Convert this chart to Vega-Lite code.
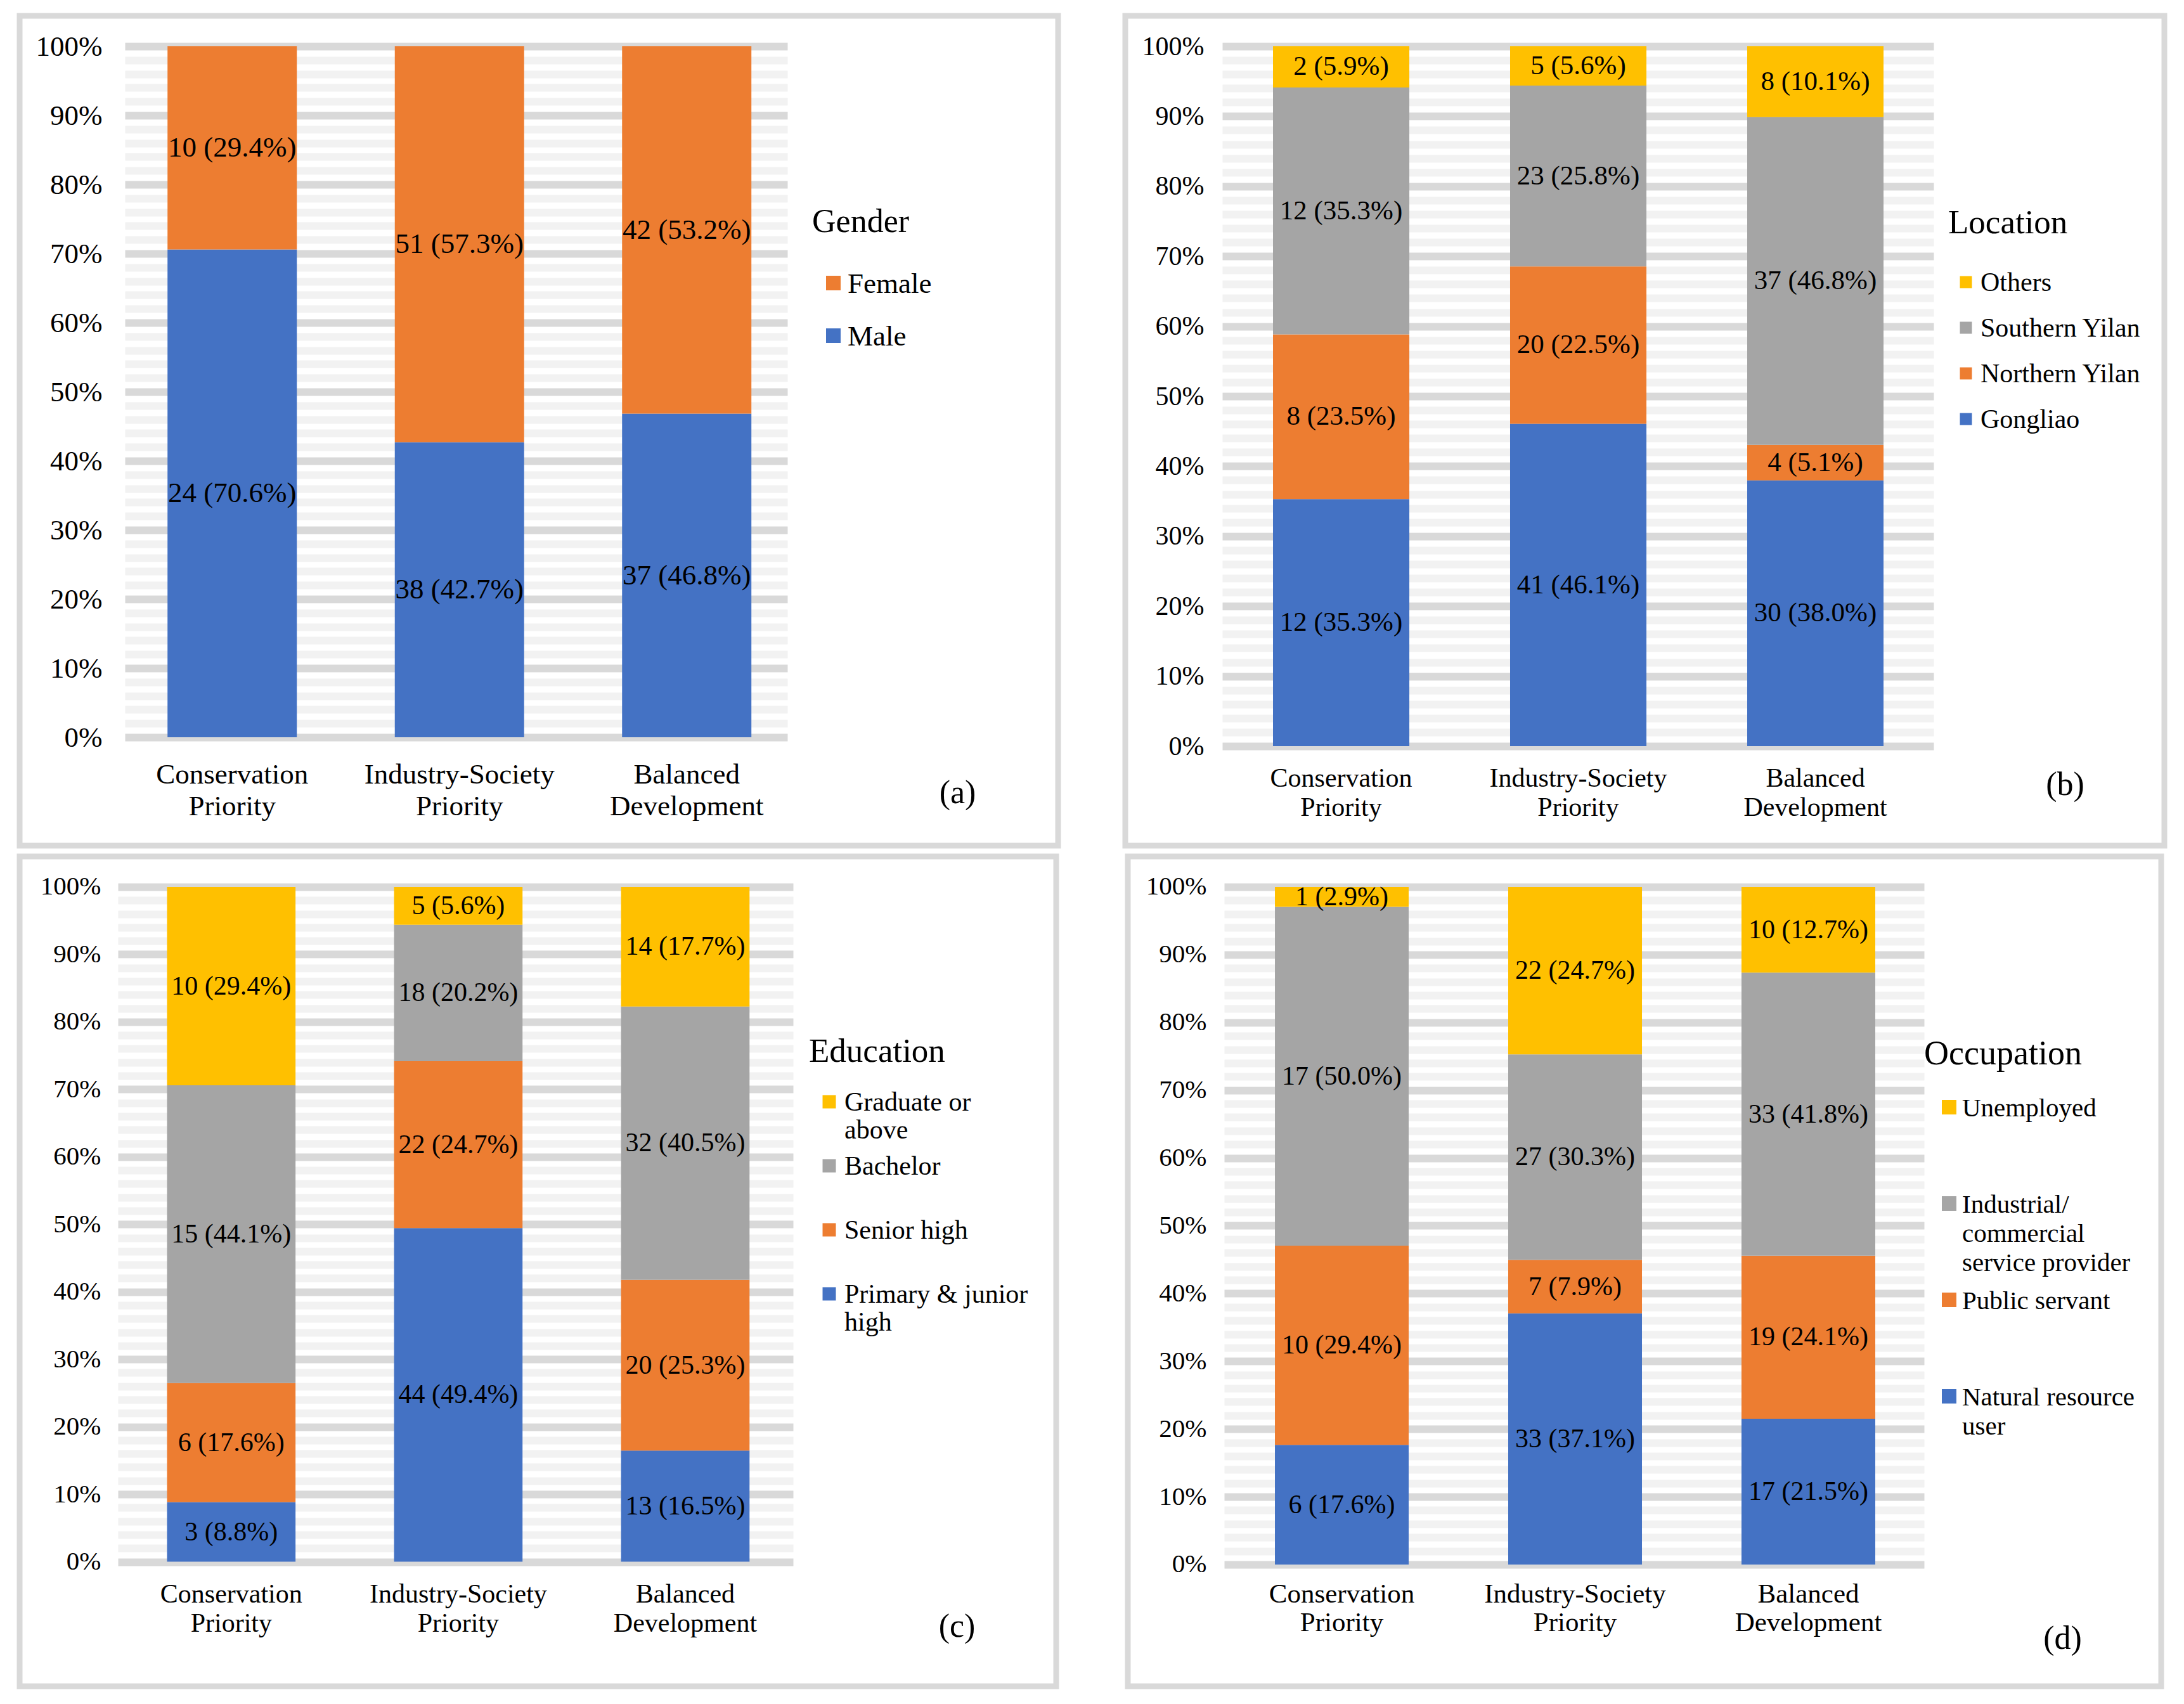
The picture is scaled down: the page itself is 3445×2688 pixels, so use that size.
{
  "$schema": "https://vega.github.io/schema/vega-lite/v6.json",
  "background": "white",
  "padding": {"left": 26, "top": 20, "right": 5, "bottom": 5},
  "spacing": 7,
  "resolve": {"scale": {"x": "independent", "y": "independent", "color": "independent"}, "legend": {"color": "independent"}},
  "datasets": {
    "gender": [
      {"grp": "Conservation Priority", "cat": "Male", "n": 24, "pct": 70.6},
      {"grp": "Conservation Priority", "cat": "Female", "n": 10, "pct": 29.4},
      {"grp": "Industry-Society Priority", "cat": "Male", "n": 38, "pct": 42.7},
      {"grp": "Industry-Society Priority", "cat": "Female", "n": 51, "pct": 57.3},
      {"grp": "Balanced Development", "cat": "Male", "n": 37, "pct": 46.8},
      {"grp": "Balanced Development", "cat": "Female", "n": 42, "pct": 53.2}
    ],
    "location": [
      {"grp": "Conservation Priority", "cat": "Gongliao", "n": 12, "pct": 35.3},
      {"grp": "Conservation Priority", "cat": "Northern Yilan", "n": 8, "pct": 23.5},
      {"grp": "Conservation Priority", "cat": "Southern Yilan", "n": 12, "pct": 35.3},
      {"grp": "Conservation Priority", "cat": "Others", "n": 2, "pct": 5.9},
      {"grp": "Industry-Society Priority", "cat": "Gongliao", "n": 41, "pct": 46.1},
      {"grp": "Industry-Society Priority", "cat": "Northern Yilan", "n": 20, "pct": 22.5},
      {"grp": "Industry-Society Priority", "cat": "Southern Yilan", "n": 23, "pct": 25.8},
      {"grp": "Industry-Society Priority", "cat": "Others", "n": 5, "pct": 5.6},
      {"grp": "Balanced Development", "cat": "Gongliao", "n": 30, "pct": 38.0},
      {"grp": "Balanced Development", "cat": "Northern Yilan", "n": 4, "pct": 5.1},
      {"grp": "Balanced Development", "cat": "Southern Yilan", "n": 37, "pct": 46.8},
      {"grp": "Balanced Development", "cat": "Others", "n": 8, "pct": 10.1}
    ],
    "education": [
      {"grp": "Conservation Priority", "cat": "Primary & junior high", "n": 3, "pct": 8.8},
      {"grp": "Conservation Priority", "cat": "Senior high", "n": 6, "pct": 17.6},
      {"grp": "Conservation Priority", "cat": "Bachelor", "n": 15, "pct": 44.1},
      {"grp": "Conservation Priority", "cat": "Graduate or above", "n": 10, "pct": 29.4},
      {"grp": "Industry-Society Priority", "cat": "Primary & junior high", "n": 44, "pct": 49.4},
      {"grp": "Industry-Society Priority", "cat": "Senior high", "n": 22, "pct": 24.7},
      {"grp": "Industry-Society Priority", "cat": "Bachelor", "n": 18, "pct": 20.2},
      {"grp": "Industry-Society Priority", "cat": "Graduate or above", "n": 5, "pct": 5.6},
      {"grp": "Balanced Development", "cat": "Primary & junior high", "n": 13, "pct": 16.5},
      {"grp": "Balanced Development", "cat": "Senior high", "n": 20, "pct": 25.3},
      {"grp": "Balanced Development", "cat": "Bachelor", "n": 32, "pct": 40.5},
      {"grp": "Balanced Development", "cat": "Graduate or above", "n": 14, "pct": 17.7}
    ],
    "occupation": [
      {"grp": "Conservation Priority", "cat": "Natural resource user", "n": 6, "pct": 17.6},
      {"grp": "Conservation Priority", "cat": "Public servant", "n": 10, "pct": 29.4},
      {"grp": "Conservation Priority", "cat": "Industrial/commercial service provider", "n": 17, "pct": 50.0},
      {"grp": "Conservation Priority", "cat": "Unemployed", "n": 1, "pct": 2.9},
      {"grp": "Industry-Society Priority", "cat": "Natural resource user", "n": 33, "pct": 37.1},
      {"grp": "Industry-Society Priority", "cat": "Public servant", "n": 7, "pct": 7.9},
      {"grp": "Industry-Society Priority", "cat": "Industrial/commercial service provider", "n": 27, "pct": 30.3},
      {"grp": "Industry-Society Priority", "cat": "Unemployed", "n": 22, "pct": 24.7},
      {"grp": "Balanced Development", "cat": "Natural resource user", "n": 17, "pct": 21.5},
      {"grp": "Balanced Development", "cat": "Public servant", "n": 19, "pct": 24.1},
      {"grp": "Balanced Development", "cat": "Industrial/commercial service provider", "n": 33, "pct": 41.8},
      {"grp": "Balanced Development", "cat": "Unemployed", "n": 10, "pct": 12.7}
    ]
  },
  "vconcat": [
    {
      "spacing": 96,
      "resolve": {"scale": {"x": "independent", "y": "independent", "color": "independent"}, "legend": {"color": "independent"}},
      "hconcat": [
        {
          "width": 1638, "height": 1309,
          "data": {"name": "gender"},
          "transform": [
            {"calculate": "indexof(['Male','Female'], datum.cat)", "as": "o"},
            {"stack": "n", "groupby": ["grp"], "sort": [{"field": "o", "order": "ascending"}], "offset": "normalize", "as": ["y0", "y1"]},
            {"calculate": "(datum.y0 + datum.y1) / 2", "as": "mid"},
            {"calculate": "datum.n + ' (' + format(datum.pct, '.1f') + '%)'", "as": "lbl"}
          ],
          "resolve": {"axis": {"x": "independent", "y": "independent"}},
          "layer": [
            {
              "mark": {"type": "bar"},
              "encoding": {
                "x": {"field": "grp", "type": "nominal", "sort": ["Conservation Priority", "Industry-Society Priority", "Balanced Development"],
                  "scale": {"paddingInner": 0.431, "paddingOuter": 1.069, "align": 0.3253},
                  "axis": {"orient": "bottom", "offset": -171, "domain": false, "ticks": false, "grid": false, "labelPadding": 36, "labelFontSize": 45, "labelLineHeight": 50, "labelBaseline": "top", "labelAngle": 0, "labelLimit": 1000, "labelExpr": "split(datum.label, ' ')",
                    "title": "(a)", "titleX": 1479, "titleY": 87, "titleFontSize": 52, "titleAlign": "center", "titleBaseline": "middle"}},
                "y": {"field": "y0", "type": "quantitative",
                  "scale": {"domain": [-0.15688, 1.04404], "nice": false, "zero": false},
                  "axis": {"orient": "left", "offset": -1211, "domain": false, "grid": false, "ticks": true, "tickSize": 1045, "tickWidth": 12,
                    "tickColor": {"condition": {"test": "round(datum.value*50) % 5 == 0", "value": "#d9d9d9"}, "value": "#f2f2f2"},
                    "values": [0,0.02,0.04,0.06,0.08,0.1,0.12,0.14,0.16,0.18,0.2,0.22,0.24,0.26,0.28,0.3,0.32,0.34,0.36,0.38,0.4,0.42,0.44,0.46,0.48,0.5,0.52,0.54,0.56,0.58,0.6,0.62,0.64,0.66,0.68,0.7,0.72,0.74,0.76,0.78,0.8,0.82,0.84,0.86,0.88,0.9,0.92,0.94,0.96,0.98,1],
                    "labelExpr": "round(datum.value*50) % 5 == 0 ? format(datum.value, '.0%') : ''",
                    "labelPadding": 36, "labelFontSize": 45, "labelOverlap": false, "labelFlush": false, "title": null}},
                "y2": {"field": "y1"},
                "color": {"field": "cat", "type": "nominal",
                  "scale": {"domain": ["Female", "Male"], "range": ["#ed7d31", "#4472c4"]},
                  "legend": {"orient": "none", "legendX": 1250, "legendY": 300, "direction": "vertical", "title": "Gender", "titleFontSize": 52, "titlePadding": 47,
                    "labelFontSize": 45, "labelBaseline": "alphabetic", "labelOffset": 0, "symbolSize": 529, "symbolOffset": 11, "rowPadding": 36,
                    "encoding": {"labels": {"dy": {"value": 15}}}}}
              }
            },
            {
              "mark": {"type": "text", "fontSize": 45, "align": "center", "baseline": "middle", "color": "#000000"},
              "encoding": {
                "x": {"field": "grp", "type": "nominal", "sort": ["Conservation Priority", "Industry-Society Priority", "Balanced Development"],
                  "scale": {"paddingInner": 0.431, "paddingOuter": 1.069, "align": 0.3253}, "axis": null},
                "y": {"field": "mid", "type": "quantitative", "scale": {"domain": [-0.15688, 1.04404], "nice": false, "zero": false}, "axis": null},
                "text": {"field": "lbl"}
              }
            }
          ]
        },
        {
          "width": 1639, "height": 1309,
          "data": {"name": "location"},
          "transform": [
            {"calculate": "indexof(['Gongliao','Northern Yilan','Southern Yilan','Others'], datum.cat)", "as": "o"},
            {"stack": "n", "groupby": ["grp"], "sort": [{"field": "o", "order": "ascending"}], "offset": "normalize", "as": ["y0", "y1"]},
            {"calculate": "(datum.y0 + datum.y1) / 2", "as": "mid"},
            {"calculate": "datum.n + ' (' + format(datum.pct, '.1f') + '%)'", "as": "lbl"}
          ],
          "resolve": {"axis": {"x": "independent", "y": "independent"}},
          "layer": [
            {
              "mark": {"type": "bar"},
              "encoding": {
                "x": {"field": "grp", "type": "nominal", "sort": ["Conservation Priority", "Industry-Society Priority", "Balanced Development"],
                  "scale": {"paddingInner": 0.425, "paddingOuter": 0.9037, "align": 0.3447},
                  "axis": {"orient": "bottom", "offset": -157, "domain": false, "ticks": false, "grid": false, "labelPadding": 30, "labelFontSize": 42, "labelLineHeight": 46, "labelBaseline": "top", "labelAngle": 0, "labelLimit": 1000, "labelExpr": "split(datum.label, ' ')",
                    "title": "(b)", "titleX": 1482, "titleY": 60, "titleFontSize": 52, "titleAlign": "center", "titleBaseline": "middle"}},
                "y": {"field": "y0", "type": "quantitative",
                  "scale": {"domain": [-0.14221, 1.04348], "nice": false, "zero": false},
                  "axis": {"orient": "left", "offset": -1275, "domain": false, "grid": false, "ticks": true, "tickSize": 1122, "tickWidth": 12,
                    "tickColor": {"condition": {"test": "round(datum.value*50) % 5 == 0", "value": "#d9d9d9"}, "value": "#f2f2f2"},
                    "values": [0,0.02,0.04,0.06,0.08,0.1,0.12,0.14,0.16,0.18,0.2,0.22,0.24,0.26,0.28,0.3,0.32,0.34,0.36,0.38,0.4,0.42,0.44,0.46,0.48,0.5,0.52,0.54,0.56,0.58,0.6,0.62,0.64,0.66,0.68,0.7,0.72,0.74,0.76,0.78,0.8,0.82,0.84,0.86,0.88,0.9,0.92,0.94,0.96,0.98,1],
                    "labelExpr": "round(datum.value*50) % 5 == 0 ? format(datum.value, '.0%') : ''",
                    "labelPadding": 29, "labelFontSize": 42, "labelOverlap": false, "labelFlush": false, "title": null}},
                "y2": {"field": "y1"},
                "color": {"field": "cat", "type": "nominal",
                  "scale": {"domain": ["Others", "Southern Yilan", "Northern Yilan", "Gongliao"], "range": ["#ffc000", "#a5a5a5", "#ed7d31", "#4472c4"]},
                  "legend": {"orient": "none", "legendX": 1298, "legendY": 301, "direction": "vertical", "title": "Location", "titleFontSize": 53, "titlePadding": 45,
                    "labelFontSize": 42, "labelBaseline": "alphabetic", "labelOffset": 2, "symbolSize": 361, "symbolOffset": 7, "rowPadding": 29,
                    "encoding": {"labels": {"dy": {"value": 14}}}}}
              }
            },
            {
              "mark": {"type": "text", "fontSize": 43, "align": "center", "baseline": "middle", "color": "#000000"},
              "encoding": {
                "x": {"field": "grp", "type": "nominal", "sort": ["Conservation Priority", "Industry-Society Priority", "Balanced Development"],
                  "scale": {"paddingInner": 0.425, "paddingOuter": 0.9037, "align": 0.3447}, "axis": null},
                "y": {"field": "mid", "type": "quantitative", "scale": {"domain": [-0.14221, 1.04348], "nice": false, "zero": false}, "axis": null},
                "text": {"field": "lbl"}
              }
            }
          ]
        }
      ]
    },
    {
      "spacing": 103,
      "resolve": {"scale": {"x": "independent", "y": "independent", "color": "independent"}, "legend": {"color": "independent"}},
      "hconcat": [
        {
          "width": 1635, "height": 1309,
          "data": {"name": "education"},
          "transform": [
            {"calculate": "indexof(['Primary & junior high','Senior high','Bachelor','Graduate or above'], datum.cat)", "as": "o"},
            {"stack": "n", "groupby": ["grp"], "sort": [{"field": "o", "order": "ascending"}], "offset": "normalize", "as": ["y0", "y1"]},
            {"calculate": "(datum.y0 + datum.y1) / 2", "as": "mid"},
            {"calculate": "datum.n + ' (' + format(datum.pct, '.1f') + '%)'", "as": "lbl"}
          ],
          "resolve": {"axis": {"x": "independent", "y": "independent"}},
          "layer": [
            {
              "mark": {"type": "bar"},
              "encoding": {
                "x": {"field": "grp", "type": "nominal", "sort": ["Conservation Priority", "Industry-Society Priority", "Balanced Development"],
                  "scale": {"paddingInner": 0.434, "paddingOuter": 1.0198, "align": 0.3246},
                  "axis": {"orient": "bottom", "offset": -196, "domain": false, "ticks": false, "grid": false, "labelPadding": 30, "labelFontSize": 42, "labelLineHeight": 46, "labelBaseline": "top", "labelAngle": 0, "labelLimit": 1000, "labelExpr": "split(datum.label, ' ')",
                    "title": "(c)", "titleX": 1478, "titleY": 101, "titleFontSize": 52, "titleAlign": "center", "titleBaseline": "middle"}},
                "y": {"field": "y0", "type": "quantitative",
                  "scale": {"domain": [-0.18459, 1.04509], "nice": false, "zero": false},
                  "axis": {"orient": "left", "offset": -1220, "domain": false, "grid": false, "ticks": true, "tickSize": 1065, "tickWidth": 12,
                    "tickColor": {"condition": {"test": "round(datum.value*50) % 5 == 0", "value": "#d9d9d9"}, "value": "#f2f2f2"},
                    "values": [0,0.02,0.04,0.06,0.08,0.1,0.12,0.14,0.16,0.18,0.2,0.22,0.24,0.26,0.28,0.3,0.32,0.34,0.36,0.38,0.4,0.42,0.44,0.46,0.48,0.5,0.52,0.54,0.56,0.58,0.6,0.62,0.64,0.66,0.68,0.7,0.72,0.74,0.76,0.78,0.8,0.82,0.84,0.86,0.88,0.9,0.92,0.94,0.96,0.98,1],
                    "labelExpr": "round(datum.value*50) % 5 == 0 ? format(datum.value, '.0%') : ''",
                    "labelPadding": 27, "labelFontSize": 41, "labelOverlap": false, "labelFlush": false, "title": null}},
                "y2": {"field": "y1"},
                "color": {"field": "cat", "type": "nominal",
                  "scale": {"domain": ["Graduate or above", "Bachelor", "Senior high", "Primary & junior high"], "range": ["#ffc000", "#a5a5a5", "#ed7d31", "#4472c4"]},
                  "legend": {"orient": "none", "legendX": 1245, "legendY": 282, "direction": "vertical", "title": "Education", "titleFontSize": 53, "titlePadding": 31,
                    "labelFontSize": 42, "labelBaseline": "alphabetic", "labelOffset": 3, "symbolSize": 441, "symbolOffset": 11, "rowPadding": 14,
                    "labelExpr": "datum.label == 'Graduate or above' ? ['Graduate or', 'above'] : datum.label == 'Primary & junior high' ? ['Primary & junior', 'high'] : [datum.label, '']",
                    "encoding": {"labels": {"dy": {"value": 14}, "lineHeight": {"value": 44}}}}}
              }
            },
            {
              "mark": {"type": "text", "fontSize": 42, "align": "center", "baseline": "middle", "color": "#000000"},
              "encoding": {
                "x": {"field": "grp", "type": "nominal", "sort": ["Conservation Priority", "Industry-Society Priority", "Balanced Development"],
                  "scale": {"paddingInner": 0.434, "paddingOuter": 1.0198, "align": 0.3246}, "axis": null},
                "y": {"field": "mid", "type": "quantitative", "scale": {"domain": [-0.18459, 1.04509], "nice": false, "zero": false}, "axis": null},
                "text": {"field": "lbl"}
              }
            }
          ]
        },
        {
          "width": 1630, "height": 1309,
          "data": {"name": "occupation"},
          "transform": [
            {"calculate": "indexof(['Natural resource user','Public servant','Industrial/commercial service provider','Unemployed'], datum.cat)", "as": "o"},
            {"stack": "n", "groupby": ["grp"], "sort": [{"field": "o", "order": "ascending"}], "offset": "normalize", "as": ["y0", "y1"]},
            {"calculate": "(datum.y0 + datum.y1) / 2", "as": "mid"},
            {"calculate": "datum.n + ' (' + format(datum.pct, '.1f') + '%)'", "as": "lbl"}
          ],
          "resolve": {"axis": {"x": "independent", "y": "independent"}},
          "layer": [
            {
              "mark": {"type": "bar"},
              "encoding": {
                "x": {"field": "grp", "type": "nominal", "sort": ["Conservation Priority", "Industry-Society Priority", "Balanced Development"],
                  "scale": {"paddingInner": 0.4266, "paddingOuter": 0.928, "align": 0.3397},
                  "axis": {"orient": "bottom", "offset": -192, "domain": false, "ticks": false, "grid": false, "labelPadding": 25, "labelFontSize": 43, "labelLineHeight": 45, "labelBaseline": "top", "labelAngle": 0, "labelLimit": 1000, "labelExpr": "split(datum.label, ' ')",
                    "title": "(d)", "titleX": 1474, "titleY": 116, "titleFontSize": 52, "titleAlign": "center", "titleBaseline": "middle"}},
                "y": {"field": "y0", "type": "quantitative",
                  "scale": {"domain": [-0.17961, 1.0449], "nice": false, "zero": false},
                  "axis": {"orient": "left", "offset": -1256, "domain": false, "grid": false, "ticks": true, "tickSize": 1104, "tickWidth": 12,
                    "tickColor": {"condition": {"test": "round(datum.value*50) % 5 == 0", "value": "#d9d9d9"}, "value": "#f2f2f2"},
                    "values": [0,0.02,0.04,0.06,0.08,0.1,0.12,0.14,0.16,0.18,0.2,0.22,0.24,0.26,0.28,0.3,0.32,0.34,0.36,0.38,0.4,0.42,0.44,0.46,0.48,0.5,0.52,0.54,0.56,0.58,0.6,0.62,0.64,0.66,0.68,0.7,0.72,0.74,0.76,0.78,0.8,0.82,0.84,0.86,0.88,0.9,0.92,0.94,0.96,0.98,1],
                    "labelExpr": "round(datum.value*50) % 5 == 0 ? format(datum.value, '.0%') : ''",
                    "labelPadding": 28, "labelFontSize": 41, "labelOverlap": false, "labelFlush": false, "title": null}},
                "y2": {"field": "y1"},
                "color": {"field": "cat", "type": "nominal",
                  "scale": {"domain": ["Unemployed", "Industrial/commercial service provider", "Public servant", "Natural resource user"], "range": ["#ffc000", "#a5a5a5", "#ed7d31", "#4472c4"]},
                  "legend": {"orient": "none", "legendX": 1256, "legendY": 285, "direction": "vertical", "title": "Occupation", "titleFontSize": 54, "titlePadding": 36,
                    "labelFontSize": 41, "labelBaseline": "alphabetic", "labelOffset": 0, "symbolSize": 529, "symbolOffset": 19, "rowPadding": 17,
                    "labelExpr": "datum.label == 'Industrial/commercial service provider' ? ['Industrial/', 'commercial', 'service provider'] : datum.label == 'Natural resource user' ? ['Natural resource', 'user', ''] : [datum.label, '', '']",
                    "encoding": {"labels": {"dy": {"value": 14}, "lineHeight": {"value": 46}}}}}
              }
            },
            {
              "mark": {"type": "text", "fontSize": 42, "align": "center", "baseline": "middle", "color": "#000000"},
              "encoding": {
                "x": {"field": "grp", "type": "nominal", "sort": ["Conservation Priority", "Industry-Society Priority", "Balanced Development"],
                  "scale": {"paddingInner": 0.4266, "paddingOuter": 0.928, "align": 0.3397}, "axis": null},
                "y": {"field": "mid", "type": "quantitative", "scale": {"domain": [-0.17961, 1.0449], "nice": false, "zero": false}, "axis": null},
                "text": {"field": "lbl"}
              }
            }
          ]
        }
      ]
    }
  ],
  "config": {
    "font": "Liberation Serif",
    "view": {"stroke": "#d9d9d9", "strokeWidth": 9, "fill": "white"},
    "axis": {"labelFont": "Liberation Serif", "titleFont": "Liberation Serif", "labelColor": "#000000", "titleColor": "#000000", "titleFontWeight": "normal", "zindex": 0, "labelOverlap": false},
    "legend": {"labelFont": "Liberation Serif", "titleFont": "Liberation Serif", "labelColor": "#000000", "titleColor": "#000000", "titleFontWeight": "normal", "labelLimit": 1000, "titleLimit": 1000, "padding": 0, "symbolType": "square", "symbolStrokeWidth": 0, "titleAnchor": "start", "titleBaseline": "top"},
    "text": {"font": "Liberation Serif"}
  }
}
